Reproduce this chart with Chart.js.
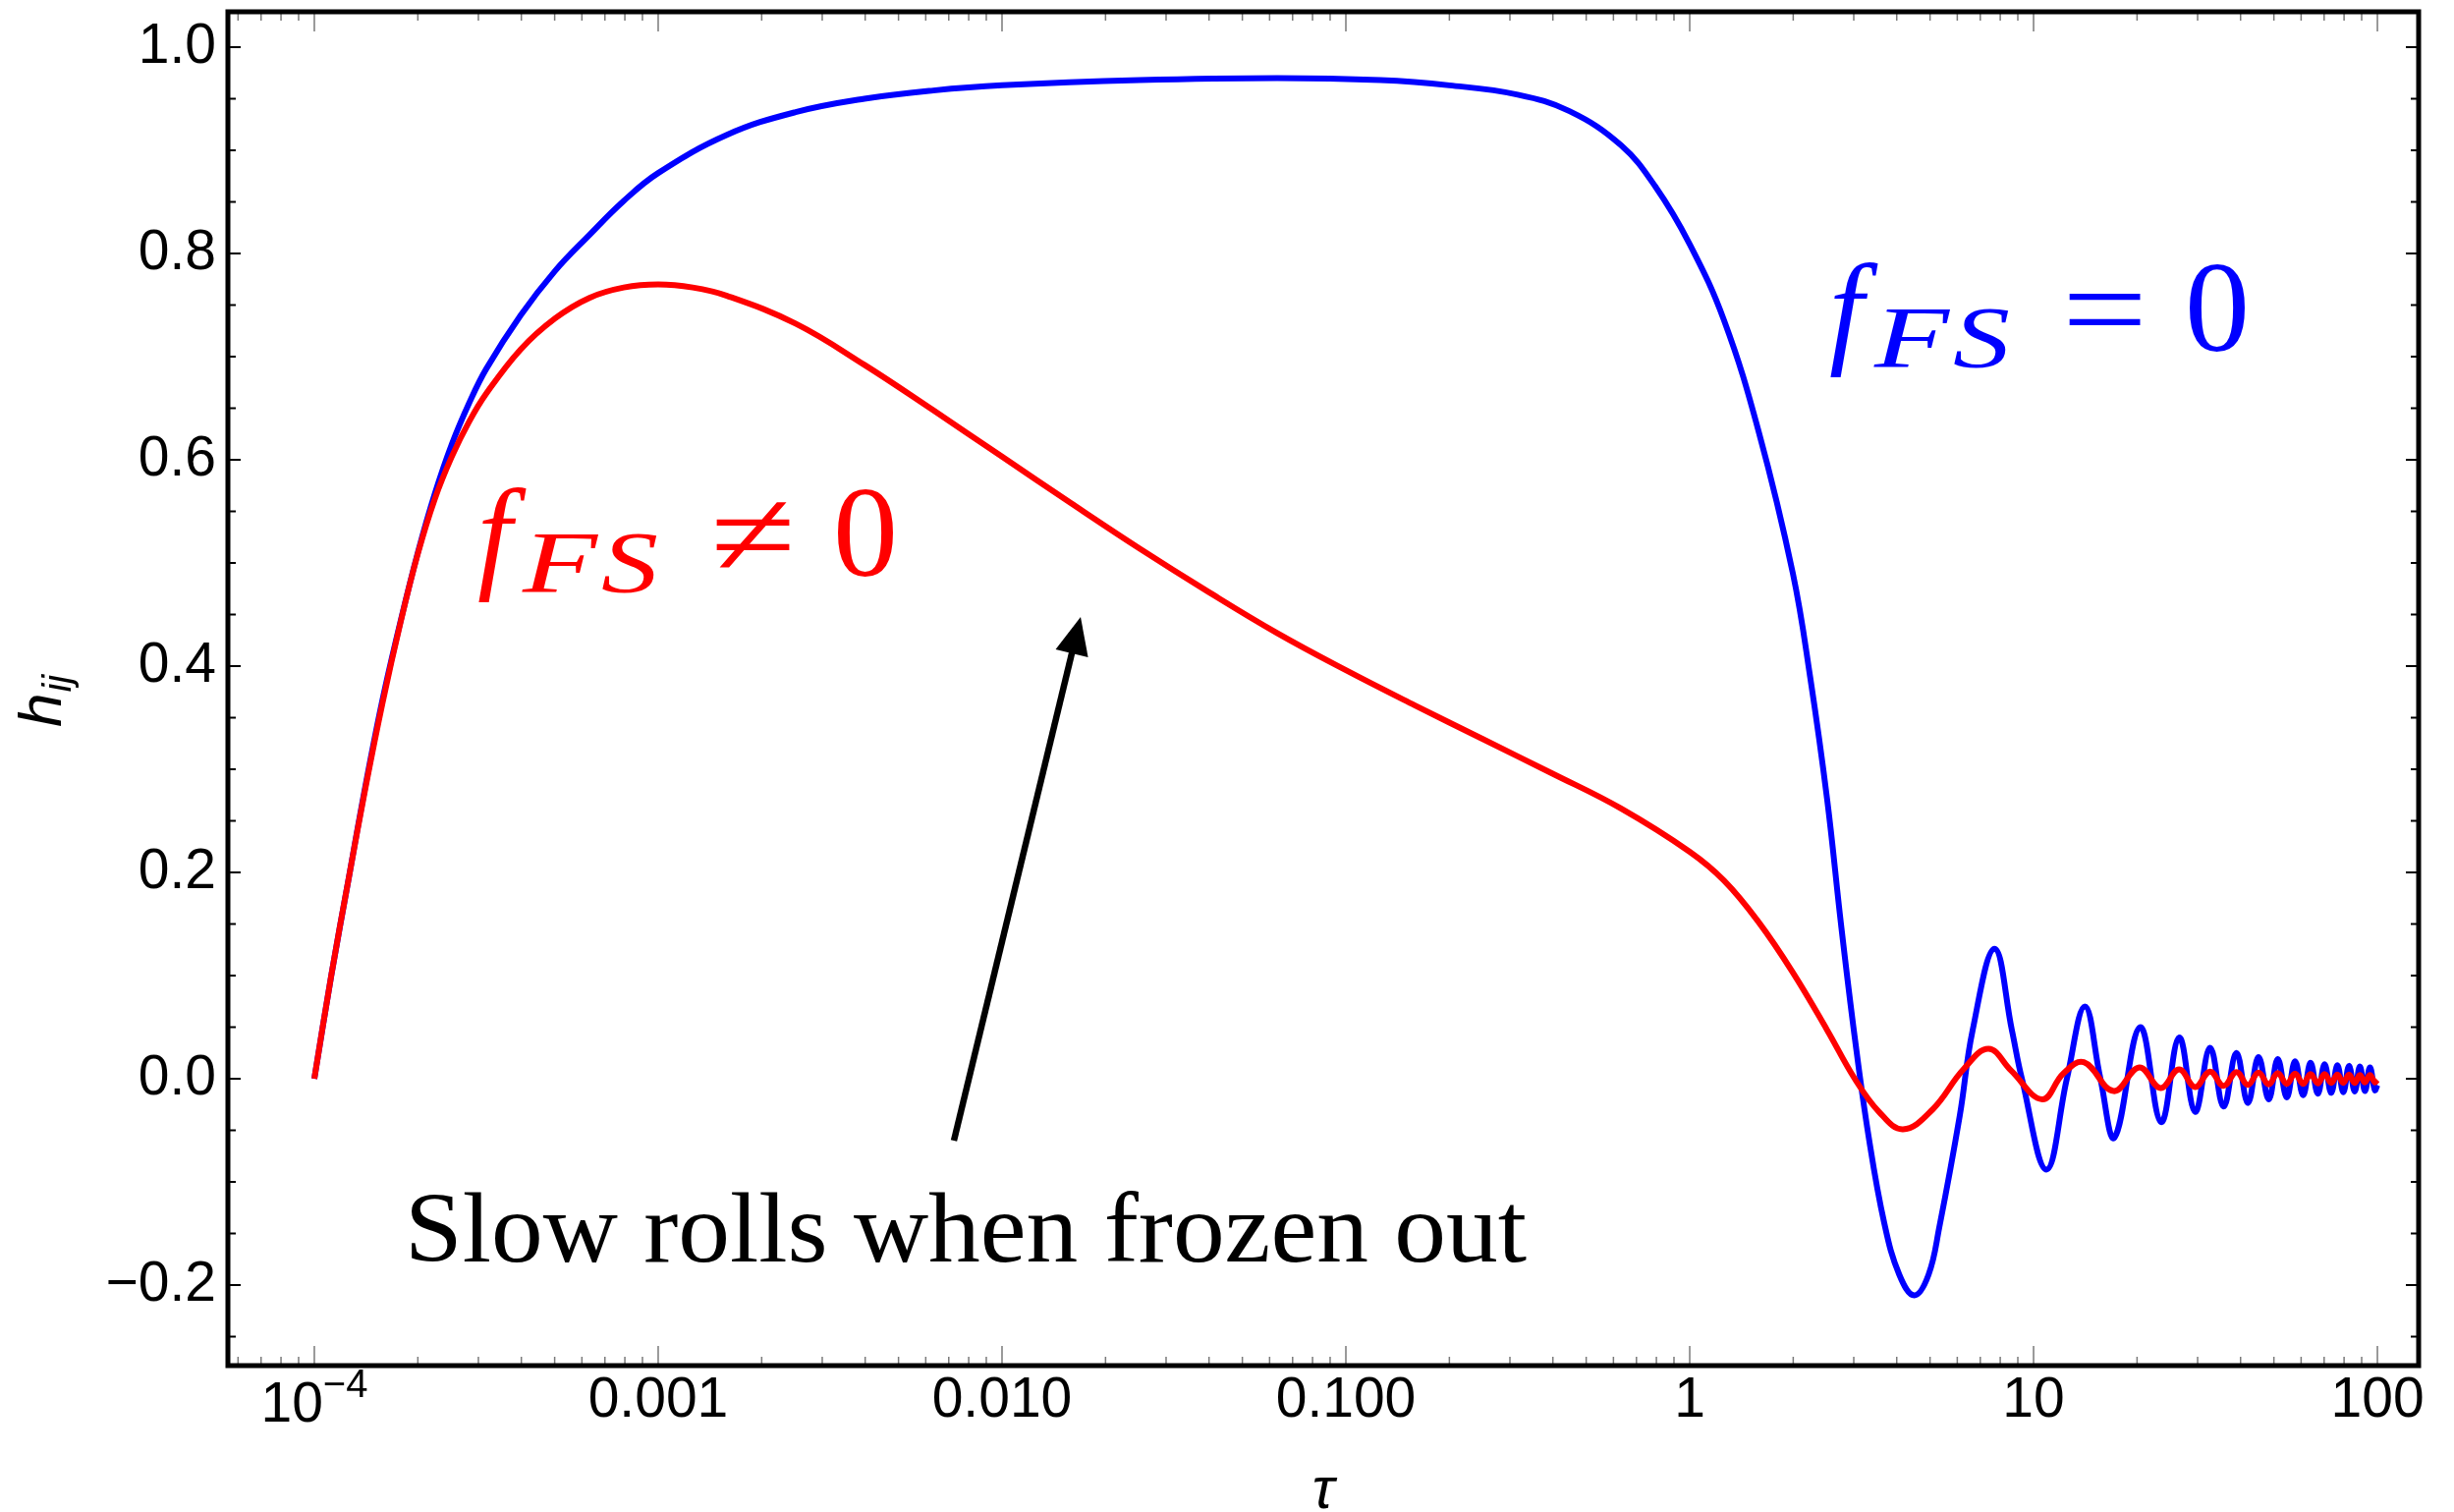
<!DOCTYPE html>
<html>
<head>
<meta charset="utf-8">
<title>h_ij vs tau</title>
<script src="https://cdn.jsdelivr.net/npm/chart.js@4.4.0/dist/chart.umd.min.js"></script>
<style>
    html, body { margin: 0; padding: 0; background: #ffffff; }
    canvas { display: block; }
</style>
</head>
<body>
<canvas id="hij-chart" width="2498" height="1539"></canvas>
<script>
// data (tau on a log axis)
var tauBlue = [1e-4, 1.12e-4, 1.26e-4, 1.41e-4, 1.58e-4, 1.78e-4, 2.0e-4, 2.24e-4, 2.51e-4, 2.82e-4,
    3.16e-4, 3.98e-4, 5.01e-4, 6.31e-4, 7.94e-4, 1.0e-3, 1.585e-3, 2.51e-3, 3.98e-3, 6.31e-3,
    0.01, 0.0251, 0.0631, 0.126, 0.2, 0.316, 0.447, 0.631, 0.794, 1.0,
    1.259, 1.585, 1.995, 2.239, 2.512, 2.754, 3.02, 3.31, 3.68, 4.07,
    4.5, 4.95, 5.32, 6.1, 6.65, 7.7, 8.65, 9.25, 10.9, 12.5,
    14.1, 15.65, 17.2, 20.4, 23.5, 26.5, 29.5, 32.6, 35.7, 38.9,
    42.0, 45.1, 48.3, 51.3, 54.5, 57.6, 60.8, 63.9, 67.1, 70.2,
    73.4, 76.5, 79.6, 82.7, 85.9, 88.9, 92.0, 95.1, 98.3, 100];
var hBlue = [0, 0.100, 0.195, 0.285, 0.368, 0.443, 0.510, 0.567, 0.615, 0.655,
    0.688, 0.740, 0.783, 0.818, 0.851, 0.878, 0.915, 0.937, 0.950, 0.958,
    0.963, 0.968, 0.970, 0.968, 0.963, 0.954, 0.938, 0.905, 0.865, 0.809,
    0.735, 0.628, 0.490, 0.390, 0.270, 0.150, 0.040, -0.055, -0.140, -0.190,
    -0.210, -0.190, -0.144, -0.036, 0.047, 0.126, 0.047, 0.000, -0.088, 0.000,
    0.070, 0.000, -0.057, 0.050, -0.042, 0.040, -0.032, 0.030, -0.027, 0.025,
    -0.0235, 0.021, -0.020, 0.019, -0.018, 0.017, -0.016, 0.0155, -0.0146, 0.014,
    -0.0137, 0.013, -0.013, 0.0125, -0.0125, 0.012, -0.012, 0.011, -0.011, -0.006];

var tauRed = [1e-4, 1.12e-4, 1.26e-4, 1.41e-4, 1.58e-4, 1.78e-4, 2.0e-4, 2.24e-4, 2.51e-4, 2.82e-4,
    3.16e-4, 3.98e-4, 5.01e-4, 6.31e-4, 7.94e-4, 1.0e-3, 1.26e-3, 1.585e-3, 2.51e-3, 3.98e-3,
    6.31e-3, 0.01, 0.01585, 0.0251, 0.0398, 0.0631, 0.1, 0.1585, 0.251, 0.398,
    0.631, 1.0, 1.259, 1.585, 1.995, 2.512, 3.02, 3.55, 4.17, 5.08,
    6.25, 7.4, 8.6, 10.6, 12.2, 14.0, 17.1, 20.3, 23.4, 26.5,
    29.5, 32.6, 35.7, 38.9, 42.0, 45.1, 48.3, 51.3, 54.5, 57.6,
    60.8, 63.9, 67.1, 70.2, 73.4, 76.5, 79.6, 82.7, 85.9, 88.9,
    92.0, 95.1, 98.3, 100];
var hRed = [0, 0.100, 0.195, 0.283, 0.365, 0.442, 0.509, 0.562, 0.603, 0.637,
    0.664, 0.707, 0.737, 0.757, 0.767, 0.770, 0.767, 0.759, 0.732, 0.692,
    0.648, 0.603, 0.558, 0.514, 0.472, 0.432, 0.396, 0.362, 0.329, 0.296,
    0.262, 0.220, 0.192, 0.152, 0.103, 0.047, 0.000, -0.032, -0.049, -0.030,
    0.009, 0.029, 0.008, -0.020, 0.005, 0.016, -0.012, 0.011, -0.009, 0.009,
    -0.008, 0.007, -0.007, 0.0065, -0.006, 0.006, -0.0055, 0.0055, -0.005, 0.005,
    -0.005, 0.0045, -0.0045, 0.0045, -0.004, 0.004, -0.004, 0.004, -0.004, 0.0035,
    -0.0035, 0.0035, -0.0035, -0.001];

// axes
var xTickValues = [1e-4, 1e-3, 1e-2, 1e-1, 1, 10, 100];
var xTickLabels = ['', '0.001', '0.010', '0.100', '1', '10', '100'];
var yTickValues = [-0.2, 0, 0.2, 0.4, 0.6, 0.8, 1.0];
var yTickLabels = ['\u22120.2', '0.0', '0.2', '0.4', '0.6', '0.8', '1.0'];
var xMin = 5.606e-5, xMax = 131.8;
var yMin = -0.2781, yMax = 1.0343;

var sansFamily = '"Liberation Sans", Arial, sans-serif';
var serifFamily = '"Liberation Serif", "Times New Roman", serif';

function toPoints(xs, ys) {
    var pts = [];
    for (var i = 0; i < xs.length; i++)
        pts.push({ x: xs[i], y: ys[i] });
    return pts;
}

// draws text squeezed/stretched to a given advance width
function fitText(ctx, text, x, y, w) {
    var m = ctx.measureText(text).width;
    ctx.save();
    ctx.translate(x, y);
    ctx.scale(w / m, 1);
    ctx.fillText(text, 0, 0);
    ctx.restore();
}

function drawMathLabel(ctx, x, y, rel, color) {
    ctx.save();
    ctx.fillStyle = color;
    ctx.textBaseline = 'alphabetic';
    ctx.textAlign = 'left';
    ctx.font = 'italic 126px ' + serifFamily;
    ctx.fillText('f', x + 6, y);
    ctx.font = 'italic 88px ' + serifFamily;
    fitText(ctx, 'F', x + 52, y + 16, 76);
    fitText(ctx, 'S', x + 132, y + 16, 58);
    ctx.font = '126px ' + serifFamily;
    fitText(ctx, rel, x + 243, y, 87);
    ctx.font = '132px ' + serifFamily;
    ctx.fillText('0', x + 368, y);
    ctx.restore();
}

var decorPlugin = {
    id: 'decor',
    afterDraw: function (chart) {
        var ctx = chart.ctx;
        var a = chart.chartArea;
        var xs = chart.scales.x;
        var ys = chart.scales.y;
        var i, k, px, py, v;

        ctx.save();

        // y ticks (black, both sides)
        ctx.strokeStyle = '#000000';
        ctx.lineWidth = 2;
        for (i = 0; i <= 26; i++) {
            v = -0.25 + i * 0.05;
            if (v < yMin || v > yMax) continue;
            py = ys.getPixelForValue(v);
            var major = Math.abs(Math.round(v * 5) - v * 5) < 1e-6;
            var len = major ? 13 : 8;
            ctx.beginPath();
            ctx.moveTo(a.left, py); ctx.lineTo(a.left + len, py);
            ctx.moveTo(a.right, py); ctx.lineTo(a.right - len, py);
            ctx.stroke();
        }

        // x ticks (grey, log minors)
        ctx.strokeStyle = '#7a7a7a';
        ctx.lineWidth = 1.5;
        for (i = -5; i <= 2; i++) {
            for (k = 1; k <= 9; k++) {
                v = k * Math.pow(10, i);
                if (v < xMin || v > xMax) continue;
                px = xs.getPixelForValue(v);
                var l2 = k === 1 ? 20 : 9;
                ctx.beginPath();
                ctx.moveTo(px, a.bottom); ctx.lineTo(px, a.bottom - l2);
                ctx.moveTo(px, a.top); ctx.lineTo(px, a.top + l2);
                ctx.stroke();
            }
        }

        // frame
        ctx.strokeStyle = '#000000';
        ctx.lineWidth = 5;
        ctx.strokeRect(a.left, a.top, a.right - a.left, a.bottom - a.top);

        // first x label: 10^-4 with a real superscript
        ctx.fillStyle = '#000000';
        ctx.textBaseline = 'alphabetic';
        ctx.textAlign = 'left';
        px = xs.getPixelForValue(xTickValues[0]);
        ctx.font = '57px ' + sansFamily;
        var w10 = ctx.measureText('10').width;
        ctx.font = '40px ' + sansFamily;
        var wExp = ctx.measureText('\u22124').width;
        var x0 = px - (w10 + wExp) / 2;
        ctx.font = '57px ' + sansFamily;
        ctx.fillText('10', x0, 1447);
        ctx.font = '40px ' + sansFamily;
        ctx.fillText('\u22124', x0 + w10, 1422);

        // axis titles
        ctx.textAlign = 'center';
        ctx.font = 'italic 60px ' + sansFamily;
        ctx.fillText('\u03C4', (a.left + a.right) / 2, 1535);

        ctx.save();
        ctx.translate(62, 740);
        ctx.rotate(-Math.PI / 2);
        ctx.textAlign = 'left';
        ctx.font = 'italic 62px ' + sansFamily;
        ctx.fillText('h', 0, 0);
        var hw = ctx.measureText('h').width;
        ctx.font = 'italic 40px ' + sansFamily;
        ctx.fillText('ij', hw + 1, 10);
        ctx.restore();

        // curve labels
        drawMathLabel(ctx, 480, 586, '\u2260', '#ff0000');
        drawMathLabel(ctx, 1856, 357, '=', '#0000ff');

        // annotation text
        ctx.fillStyle = '#000000';
        ctx.textAlign = 'left';
        ctx.font = '101px ' + serifFamily;
        fitText(ctx, 'Slow rolls when frozen out', 412, 1284, 1142);

        // arrow
        var tx = 971, ty = 1161, hx = 1100, hy = 628;
        var dx = hx - tx, dy = hy - ty, dl = Math.sqrt(dx * dx + dy * dy);
        var ux = dx / dl, uy = dy / dl;
        var bx = hx - ux * 38, by = hy - uy * 38;
        ctx.strokeStyle = '#000000';
        ctx.lineWidth = 6.5;
        ctx.beginPath();
        ctx.moveTo(tx, ty); ctx.lineTo(bx + ux * 4, by + uy * 4);
        ctx.stroke();
        ctx.beginPath();
        ctx.moveTo(hx, hy);
        ctx.lineTo(bx - uy * 17, by + ux * 17);
        ctx.lineTo(bx + uy * 17, by - ux * 17);
        ctx.closePath();
        ctx.fill();

        ctx.restore();
    }
};

function BuildHijChart() {
    var ctx = document.getElementById('hij-chart');

    return new Chart(ctx, {
        type: 'line',
        data: {
            datasets: [{
                label: 'f_FS != 0',
                data: toPoints(tauRed, hRed),
                borderColor: '#ff0000',
                borderWidth: 6
            }, {
                label: 'f_FS = 0',
                data: toPoints(tauBlue, hBlue),
                borderColor: '#0000ff',
                borderWidth: 6
            }]
        },
        options: {
            responsive: false,
            animation: false,
            devicePixelRatio: 1,
            layout: { padding: { left: 0, top: 12, right: 36, bottom: 0 } },
            elements: {
                point: { radius: 0 },
                line: { tension: 0.4, fill: false }
            },
            plugins: {
                legend: { display: false },
                tooltip: { enabled: false }
            },
            scales: {
                x: {
                    type: 'logarithmic',
                    min: xMin,
                    max: xMax,
                    grid: { display: false, drawTicks: false },
                    border: { display: false },
                    afterBuildTicks: function (scale) {
                        scale.ticks = xTickValues.map(function (v) { return { value: v }; });
                    },
                    afterFit: function (scale) {
                        scale.height = 149;
                        scale.paddingLeft = 0;
                        scale.paddingRight = 0;
                    },
                    ticks: {
                        autoSkip: false,
                        maxRotation: 0,
                        padding: 2,
                        color: '#000000',
                        font: { family: sansFamily, size: 57 },
                        callback: function (value, index) { return xTickLabels[index]; }
                    }
                },
                y: {
                    min: yMin,
                    max: yMax,
                    grid: { display: false, drawTicks: false },
                    border: { display: false },
                    afterBuildTicks: function (scale) {
                        scale.ticks = yTickValues.map(function (v) { return { value: v }; });
                    },
                    afterFit: function (scale) {
                        scale.width = 232;
                        scale.paddingTop = 0;
                        scale.paddingBottom = 0;
                    },
                    ticks: {
                        autoSkip: false,
                        padding: 12,
                        color: '#000000',
                        font: { family: sansFamily, size: 57 },
                        callback: function (value, index) { return yTickLabels[index]; }
                    }
                }
            }
        },
        plugins: [decorPlugin]
    });
}

// starting scripts
var hijChart = BuildHijChart();
</script>
</body>
</html>
